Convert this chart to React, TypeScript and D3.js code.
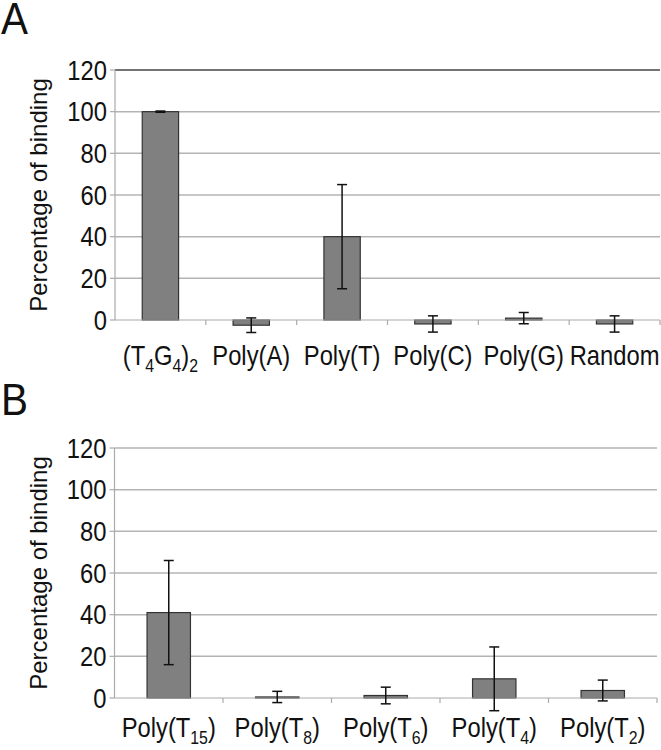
import React from "react";
import * as d3 from "d3";

const categoriesA = ["(T_4G_4)_2", "Poly(A)", "Poly(T)", "Poly(C)", "Poly(G)", "Random"];
const valuesA = [100, -2.5, 40, -1.9, 0.9, -1.9];
const errorsA = [0.3, 3.5, 25, 3.9, 2.7, 3.9];

const categoriesB = ["Poly(T_15)", "Poly(T_8)", "Poly(T_6)", "Poly(T_4)", "Poly(T_2)"];
const valuesB = [41, 0.5, 1.2, 9.2, 3.6];
const errorsB = [25, 2.7, 4, 15.3, 5];

const yTicks = [0, 20, 40, 60, 80, 100, 120];
const yLabel = "Percentage of binding";

const FONT = "'Liberation Sans', Arial, Helvetica, sans-serif";
const SQ = 0.88;

function Label({ text, x, y }: { text: string; x: number; y: number }) {
  const parts = text.split(/(_\d+)/).filter((p) => p.length > 0);
  return (
    <text transform={`translate(${x},${y}) scale(${SQ},1)`} textAnchor="middle" fontFamily={FONT} fontSize={27} fill="#111">
      {parts.map((p, i) =>
        p.startsWith("_") ? (
          <tspan key={i} fontSize={18} dy={7}>{p.slice(1)}</tspan>
        ) : (
          <tspan key={i} dy={i > 0 && parts[i - 1].startsWith("_") ? -7 : 0}>{p}</tspan>
        )
      )}
    </text>
  );
}

function Panel({
  cats, vals, errs, left, right, top, zero, labelY, darkTop, letter, letterY,
}: {
  cats: string[]; vals: number[]; errs: number[]; left: number; right: number;
  top: number; zero: number; labelY: number; darkTop: boolean; letter: string; letterY: number;
}) {
  const x = d3.scaleBand<string>().domain(cats).range([left, right]).paddingInner(0).paddingOuter(0);
  const y = d3.scaleLinear().domain([0, 120]).range([zero, top]);
  const bw = x.bandwidth() * 0.4;
  return (
    <g>
      <text transform={`translate(1,${letterY}) scale(0.92,1)`} fontFamily={FONT} fontSize={44} fill="#111">{letter}</text>
      {yTicks.filter((t) => t > 0).map((t) => (
        <line key={t} x1={left} x2={right} y1={y(t)} y2={y(t)}
          stroke={darkTop && t === 120 ? "#444" : "#b4b4b4"} strokeWidth={1.5} />
      ))}
      {/* y axis */}
      <line x1={left} x2={left} y1={top} y2={zero} stroke="#aaa" strokeWidth={1.2} />
      {yTicks.map((t) => (
        <g key={t}>
          <line x1={left - 5} x2={left} y1={y(t)} y2={y(t)} stroke="#aaa" strokeWidth={1.2} />
          <text transform={`translate(${left - 8},${y(t)}) scale(${SQ},1)`} dy="0.36em" textAnchor="end"
            fontFamily={FONT} fontSize={27} fill="#111">{t}</text>
        </g>
      ))}
      <text transform={`translate(${left - 68},${(top + zero) / 2}) rotate(-90)`} textAnchor="middle"
        fontFamily={FONT} fontSize={24} fill="#111">{yLabel}</text>
      {/* bars */}
      {cats.map((c, i) => {
        const cx = (x(c) as number) + x.bandwidth() / 2;
        const v = vals[i];
        const y0 = y(Math.max(0, v));
        const y1 = y(Math.min(0, v));
        return (
          <rect key={c} x={cx - bw / 2} y={y0} width={bw} height={Math.max(1, y1 - y0)}
            fill="#808080" stroke="#333" strokeWidth={1.2} />
        );
      })}
      {/* x axis */}
      <line x1={left} x2={right} y1={zero} y2={zero} stroke="#aaa" strokeWidth={1.2} />
      {cats.map((c) => (
        <line key={c} x1={(x(c) as number) + x.bandwidth()} x2={(x(c) as number) + x.bandwidth()}
          y1={zero} y2={zero + 5} stroke="#aaa" strokeWidth={1.2} />
      ))}
      {/* error bars */}
      {cats.map((c, i) => {
        const cx = (x(c) as number) + x.bandwidth() / 2;
        const hi = y(vals[i] + errs[i]);
        const lo = y(vals[i] - errs[i]);
        return (
          <g key={c} stroke="#111" strokeWidth={1.5}>
            <line x1={cx} x2={cx} y1={hi} y2={lo} />
            <line x1={cx - 5} x2={cx + 5} y1={hi} y2={hi} />
            <line x1={cx - 5} x2={cx + 5} y1={lo} y2={lo} />
          </g>
        );
      })}
      {cats.map((c) => (
        <Label key={c} text={c} x={(x(c) as number) + x.bandwidth() / 2} y={labelY} />
      ))}
    </g>
  );
}

export default function App() {
  return (
    <svg width={661} height={750} style={{ position: "absolute", left: 0, top: 0, background: "#fff" }}>
      <rect width={661} height={750} fill="#fff" />
      <Panel cats={categoriesA} vals={valuesA} errs={errorsA} left={115} right={660} top={70} zero={320}
        labelY={365} darkTop={true} letter="A" letterY={34} />
      <Panel cats={categoriesB} vals={valuesB} errs={errorsB} left={114.5} right={657} top={448} zero={698}
        labelY={737} darkTop={false} letter="B" letterY={415} />
    </svg>
  );
}
